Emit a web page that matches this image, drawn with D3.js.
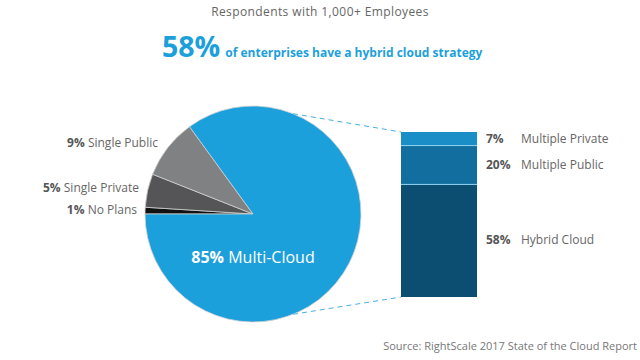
<!DOCTYPE html>
<html><head><meta charset="utf-8">
<script src="https://cdn.jsdelivr.net/npm/d3@7"></script>
<style>body{margin:0;background:#fff}svg{display:block;font-family:"Open Sans",sans-serif}</style>
</head><body>
<svg id="c" width="640" height="360"></svg>
<script>
const pieLabels = ["No Plans","Single Private","Single Public","Multi-Cloud"];
const pieValues = [1,5,9,85];
const barLabels = ["Multiple Private","Multiple Public","Hybrid Cloud"];
const barValues = [7,20,58];
const title = "Respondents with 1,000+ Employees";
const headline = ["58%","of enterprises have a hybrid cloud strategy"];
const source = "Source: RightScale 2017 State of the Cloud Report";

const svg = d3.select("#c");
const pieColors = d3.scaleOrdinal().domain(pieLabels).range(["#111111","#555557","#808183","#1ca0dc"]);
const barColors = d3.scaleOrdinal().domain(barLabels).range(["#1a8fc7","#116e9e","#0b4e72"]);
const textCol = "#555";

svg.append("text").attr("x",320).attr("y",16).attr("text-anchor","middle")
  .attr("font-size",12).attr("fill","#666").attr("letter-spacing",0.4).text(title);
const h = svg.append("text").attr("x",162).attr("y",57).attr("fill","#1ca0dc").attr("font-weight","bold");
h.append("tspan").attr("font-size",28.5).text(headline[0]);
h.append("tspan").attr("font-size",12).attr("dx",5).text(headline[1]);

const cx=253, cy=214, R=108;
const pie = d3.pie().sort(null).value(d=>d).startAngle(1.5*Math.PI).endAngle(3.5*Math.PI);
const arcs = pie(pieValues);
const arc = d3.arc().innerRadius(0).outerRadius(R);
const g = svg.append("g").attr("transform",`translate(${cx},${cy})`);
g.selectAll("path").data(arcs).join("path").attr("d",arc)
  .attr("fill",(d,i)=>pieColors(pieLabels[i])).attr("stroke","#d0d0d0").attr("stroke-width",0.8);

// bar
const bx=401, bw=76, by0=132, by1=297;
const total = d3.sum(barValues);
const y = d3.scaleLinear().domain([0,total]).range([by0,by1]);
let acc=0; const segs = barValues.map((v,i)=>{const s={v,i,a:acc,b:acc+v}; acc+=v; return s;});
svg.selectAll("rect.seg").data(segs).join("rect").attr("class","seg")
  .attr("x",bx).attr("width",bw).attr("y",d=>y(d.a)).attr("height",d=>y(d.b)-y(d.a))
  .attr("fill",d=>barColors(barLabels[d.i]));
svg.selectAll("line.sep").data(segs.slice(1)).join("line").attr("class","sep")
  .attr("x1",bx).attr("x2",bx+bw).attr("y1",d=>y(d.a)).attr("y2",d=>y(d.a))
  .attr("stroke","#8fd3f2").attr("stroke-width",1);

// connectors
const pTopAng = 0.38, pBotAng = Math.PI - 0.38;
function pt(a){return [cx+R*Math.sin(a), cy-R*Math.cos(a)];}
const conn = [[pt(pTopAng),[bx,by0]],[pt(pBotAng),[bx,by1]]];
svg.selectAll("line.conn").data(conn).join("line").attr("class","conn")
  .attr("x1",d=>d[0][0]).attr("y1",d=>d[0][1]).attr("x2",d=>d[1][0]).attr("y2",d=>d[1][1])
  .attr("stroke","#4aaee0").attr("stroke-width",1).attr("stroke-dasharray","5,4");

// bar labels
const barLabY = [139,165,240];
segs.forEach((s,i)=>{
  svg.append("text").attr("x",486).attr("y",barLabY[i]).attr("dy","0.35em").attr("font-size",12)
    .attr("font-weight","bold").attr("fill",textCol).text(s.v+"%");
  svg.append("text").attr("x",521).attr("y",barLabY[i]).attr("dy","0.35em").attr("font-size",12)
    .attr("fill","#666").text(barLabels[i]);
});

// pie labels
const pieLab = [{i:2,x:158,y:143},{i:1,x:139,y:188},{i:0,x:137,y:210}];
pieLab.forEach(p=>{
  const t = svg.append("text").attr("x",p.x).attr("y",p.y).attr("dy","0.35em").attr("text-anchor","end")
    .attr("font-size",12).attr("fill",textCol);
  t.append("tspan").attr("font-weight","bold").text(pieValues[p.i]+"%");
  t.append("tspan").attr("fill","#666").text(" "+pieLabels[p.i]);
});
const ml = svg.append("text").attr("x",cx).attr("y",257).attr("dy","0.35em").attr("text-anchor","middle")
  .attr("font-size",16).attr("fill","#fff");
ml.append("tspan").attr("font-weight","bold").text(pieValues[3]+"%");
ml.append("tspan").text(" "+pieLabels[3]);

svg.append("text").attr("x",637).attr("y",346).attr("dy","0.35em").attr("text-anchor","end")
  .attr("font-size",11).attr("fill","#777").text(source);
</script>
</body></html>
